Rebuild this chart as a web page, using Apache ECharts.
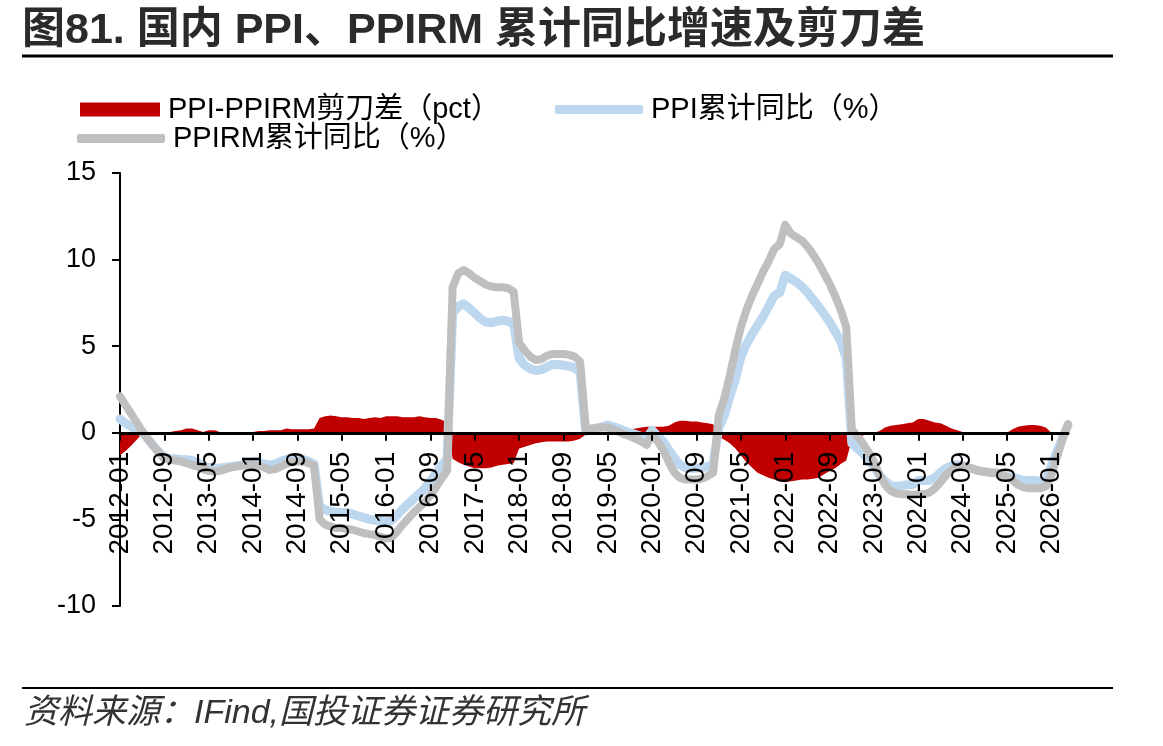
<!DOCTYPE html>
<html>
<head>
<meta charset="utf-8">
<script src="https://cdn.jsdelivr.net/npm/echarts@6/dist/echarts.min.js"></script>
<style>
  html, body { margin: 0; padding: 0; background: #fff; }
  #main { width: 1163px; height: 746px; }
</style>
</head>
<body>
<div id="main"></div>
<script>
// 月份 2012-01 起
var startYear = 2012;
var monthCount = 172;

// PPI累计同比（%）
var ppi = [
  0.8, 0.55, 0.35, 0.2, 0.05, -0.35, -0.75, -1.1, -1.45, -1.5, -1.5, -1.55,
  -1.55, -1.6, -1.75, -1.9, -2.0, -2.05, -2.05, -2.0, -1.95, -1.9, -1.85, -1.8,
  -1.65, -1.7, -1.8, -1.85, -1.8, -1.65, -1.55, -1.45, -1.45, -1.55, -1.65, -1.8,
  -4.25, -4.45, -4.55, -4.6, -4.6, -4.6, -4.7, -4.8, -4.9, -5.0, -5.05, -5.1,
  -5.15, -5.05, -4.75, -4.4, -4.1, -3.8, -3.5, -3.2, -2.8, -2.35, -1.9, -1.5,
  6.9, 7.3, 7.45, 7.2, 6.9, 6.6, 6.4, 6.35, 6.45, 6.5, 6.45, 6.3,
  4.3, 3.9, 3.7, 3.6, 3.65, 3.8, 3.95, 3.95, 3.9, 3.85, 3.75, 3.5,
  0.1, 0.15, 0.25, 0.35, 0.45, 0.35, 0.25, 0.1, 0.0, -0.1, -0.2, -0.3,
  0.15, -0.2, -0.5, -1.0, -1.45, -1.85, -2.0, -2.05, -2.05, -2.0, -1.95, -1.8,
  0.3, 1.0, 2.1, 3.1, 4.4, 5.1, 5.7, 6.2, 6.7, 7.3, 7.9, 8.1,
  9.1, 8.9, 8.7, 8.45, 8.1, 7.7, 7.3, 6.85, 6.4, 5.85, 5.3, 4.3,
  -0.6, -0.9, -1.2, -1.55, -1.95, -2.45, -2.8, -3.05, -3.1, -3.05, -3.0, -3.0,
  -2.75, -2.75, -2.75, -2.6, -2.3, -2.05, -1.9, -1.85, -1.9, -2.0, -2.1, -2.2,
  -2.25, -2.3, -2.3, -2.4, -2.55, -2.55, -2.65, -2.75, -2.75, -2.75, -2.8, -2.8,
  -1.9, -1.1, -0.3, 0.45
];

// PPIRM累计同比（%）
var ppirm = [
  2.1, 1.6, 1.1, 0.6, 0.1, -0.35, -0.75, -1.15, -1.5, -1.55, -1.6, -1.65,
  -1.75, -1.85, -1.95, -2.1, -2.2, -2.25, -2.2, -2.1, -2.0, -1.95, -1.9, -1.85,
  -1.85, -1.9, -2.0, -2.15, -2.1, -1.95, -1.8, -1.7, -1.65, -1.65, -1.75, -1.9,
  -5.0, -5.3, -5.4, -5.5, -5.5, -5.55, -5.6, -5.7, -5.8, -5.85, -5.9, -6.0,
  -6.1, -6.05, -5.7, -5.3, -4.95, -4.6, -4.3, -4.0, -3.6, -3.15, -2.65, -2.2,
  8.4, 9.2, 9.4, 9.2, 8.95, 8.75, 8.55, 8.45, 8.4, 8.4, 8.35, 8.15,
  5.2, 4.75, 4.4, 4.2, 4.25, 4.45, 4.55, 4.55, 4.55, 4.5, 4.4, 4.1,
  0.2, 0.25, 0.3, 0.3, 0.3, 0.2, 0.05, -0.1, -0.2, -0.35, -0.5, -0.7,
  -0.1, -0.5, -1.0, -1.7, -2.3, -2.6, -2.7, -2.7, -2.7, -2.65, -2.5, -2.3,
  1.0, 2.0, 3.3, 4.8, 6.1, 7.1, 7.9, 8.6, 9.3, 9.9, 10.6, 10.9,
  12.0, 11.5, 11.3, 11.1, 10.75, 10.3, 9.8, 9.2, 8.6, 7.9, 7.1, 6.1,
  0.2, -0.2, -0.6, -1.1, -1.7, -2.4, -3.0, -3.35, -3.5, -3.55, -3.55, -3.6,
  -3.55, -3.55, -3.45, -3.2, -2.85, -2.45, -2.15, -2.0, -1.95, -2.0, -2.1, -2.2,
  -2.25, -2.3, -2.3, -2.4, -2.55, -2.75, -3.0, -3.15, -3.2, -3.2, -3.2, -3.1,
  -2.45, -1.4, -0.4, 0.5
];

// PPI-PPIRM剪刀差（pct）
var spread = [
  -1.3, -1.05, -0.75, -0.4, -0.05, 0, 0, 0.05, 0.05, 0.05, 0.1, 0.15,
  0.25, 0.25, 0.15, 0.05, 0.15, 0.15, 0.05, 0, 0, 0, 0, 0,
  0.05, 0.1, 0.1, 0.15, 0.15, 0.15, 0.25, 0.2, 0.2, 0.2, 0.2, 0.25,
  0.85, 0.95, 1.0, 0.95, 0.9, 0.9, 0.85, 0.85, 0.8, 0.85, 0.9, 0.85,
  0.95, 0.95, 0.95, 0.9, 0.9, 0.9, 0.95, 0.9, 0.85, 0.85, 0.75, 0.6,
  -1.5, -1.7, -1.85, -1.95, -2.05, -2.05, -2.05, -2.0, -1.9, -1.85, -1.8, -1.75,
  -0.9, -0.8, -0.7, -0.6, -0.55, -0.5, -0.5, -0.5, -0.5, -0.5, -0.45, -0.35,
  -0.1, 0, 0, 0, 0, 0, 0.05, 0.15, 0.2, 0.25, 0.3, 0.35,
  0.35, 0.35, 0.35, 0.4, 0.6, 0.7, 0.7, 0.65, 0.65, 0.6, 0.55, 0.5,
  -0.2, -0.4, -0.6, -0.9, -1.3, -1.7, -2.0, -2.3, -2.45, -2.6, -2.7, -2.8,
  -2.85, -2.8, -2.75, -2.7, -2.7, -2.65, -2.6, -2.4, -2.2, -2.05, -1.8, -1.6,
  -0.4, -0.3, -0.15, -0.05, 0, 0.1, 0.3, 0.4, 0.45, 0.5, 0.55, 0.6,
  0.8, 0.8, 0.7, 0.6, 0.55, 0.4, 0.25, 0.15, 0.05, 0, 0, 0,
  0, 0, 0, 0, 0, 0.2, 0.35, 0.4, 0.45, 0.45, 0.4, 0.3,
  0, null, null, null
];

var yTicks = [-10, -5, 0, 5, 10, 15];

var months = [];
for (var i = 0; i < monthCount; i++) {
    var y = startYear + Math.floor(i / 12);
    var m = i % 12 + 1;
    months.push(y + '-' + (m < 10 ? '0' + m : m));
}

var fontLatin = "'Liberation Sans', Arial, 'Noto Sans CJK SC', sans-serif";
var legendText = { fontSize: 29, color: '#000', fontFamily: fontLatin, padding: [0, 0, 0, 3] };

// 图区上下边界（像素），x轴放在0值处
var gridTop = 173, gridBottom = 140;
var plotH = 746 - gridTop - gridBottom;
var zeroOffset = -plotH * (0 - yTicks[0]) / (yTicks[yTicks.length - 1] - yTicks[0]);

var myChart = echarts.init(document.getElementById('main'));

myChart.setOption({
    animation: false,
    backgroundColor: '#fff',
    //标题
    title: {
        text: '图81. 国内 PPI、PPIRM 累计同比增速及剪刀差',
        left: 22,
        top: 10,
        padding: 0,
        textStyle: {
            fontSize: 43,
            fontWeight: 'bold',
            color: '#2b2b2b',
            fontFamily: fontLatin
        }
    },
    graphic: [
        {
            type: 'line',
            shape: { x1: 22, y1: 56, x2: 1113, y2: 56 },
            style: { stroke: '#000', lineWidth: 3 }
        },
        {
            type: 'line',
            shape: { x1: 22, y1: 688, x2: 1113, y2: 688 },
            style: { stroke: '#000', lineWidth: 2 }
        },
        {
            type: 'text',
            left: 24,
            top: 697,
            style: {
                text: '资料来源：IFind,国投证券证券研究所',
                font: "italic 34px 'Liberation Sans', 'Noto Sans CJK SC', sans-serif",
                fill: '#333'
            }
        }
    ],
    //图例
    legend: [
        {
            left: 80,
            top: 95,
            itemWidth: 80,
            itemHeight: 14,
            padding: 0,
            textStyle: legendText,
            data: [{ name: 'PPI-PPIRM剪刀差（pct）', icon: 'rect' }]
        },
        {
            left: 555,
            top: 95,
            itemWidth: 88,
            itemHeight: 9,
            padding: 0,
            textStyle: legendText,
            data: [{ name: 'PPI累计同比（%）', icon: 'roundRect' }]
        },
        {
            left: 77,
            top: 124,
            itemWidth: 88,
            itemHeight: 9,
            padding: 0,
            textStyle: legendText,
            data: [{ name: 'PPIRM累计同比（%）', icon: 'roundRect' }]
        }
    ],
    grid: {
        left: 120,
        right: 95,
        top: gridTop,
        bottom: gridBottom
    },
    xAxis: {
        type: 'category',
        data: months,
        boundaryGap: false,
        z: 5,
        offset: zeroOffset,
        axisLine: { onZero: false, lineStyle: { color: '#000', width: 3 } },
        axisTick: { show: true, interval: 7, length: 8, lineStyle: { color: '#000', width: 2 } },
        axisLabel: {
            interval: 7,
            rotate: 90,
            margin: 19,
            fontSize: 28,
            color: '#000',
            fontFamily: fontLatin
        },
        splitLine: { show: false }
    },
    yAxis: {
        type: 'value',
        min: yTicks[0],
        max: yTicks[yTicks.length - 1],
        interval: 5,
        axisLine: { show: true, lineStyle: { color: '#000', width: 2 } },
        axisTick: { show: true, length: 8, lineStyle: { color: '#000', width: 2 } },
        axisLabel: { fontSize: 27, color: '#000', margin: 24, fontFamily: fontLatin },
        splitLine: { show: false }
    },
    series: [
        {
            name: 'PPI-PPIRM剪刀差（pct）',
            type: 'line',
            data: spread,
            z: 1,
            symbol: 'none',
            lineStyle: { width: 0, color: '#C00000' },
            itemStyle: { color: '#C00000' },
            areaStyle: { color: '#C00000', opacity: 1 }
        },
        {
            name: 'PPI累计同比（%）',
            type: 'line',
            data: ppi,
            z: 3,
            symbol: 'none',
            itemStyle: { color: '#BDD7EE' },
            lineStyle: { width: 9, color: '#BDD7EE', cap: 'round', join: 'round' }
        },
        {
            name: 'PPIRM累计同比（%）',
            type: 'line',
            data: ppirm,
            z: 4,
            symbol: 'none',
            itemStyle: { color: '#BFBFBF' },
            lineStyle: { width: 8, color: '#BFBFBF', cap: 'round', join: 'round' }
        }
    ]
});
</script>
</body>
</html>
